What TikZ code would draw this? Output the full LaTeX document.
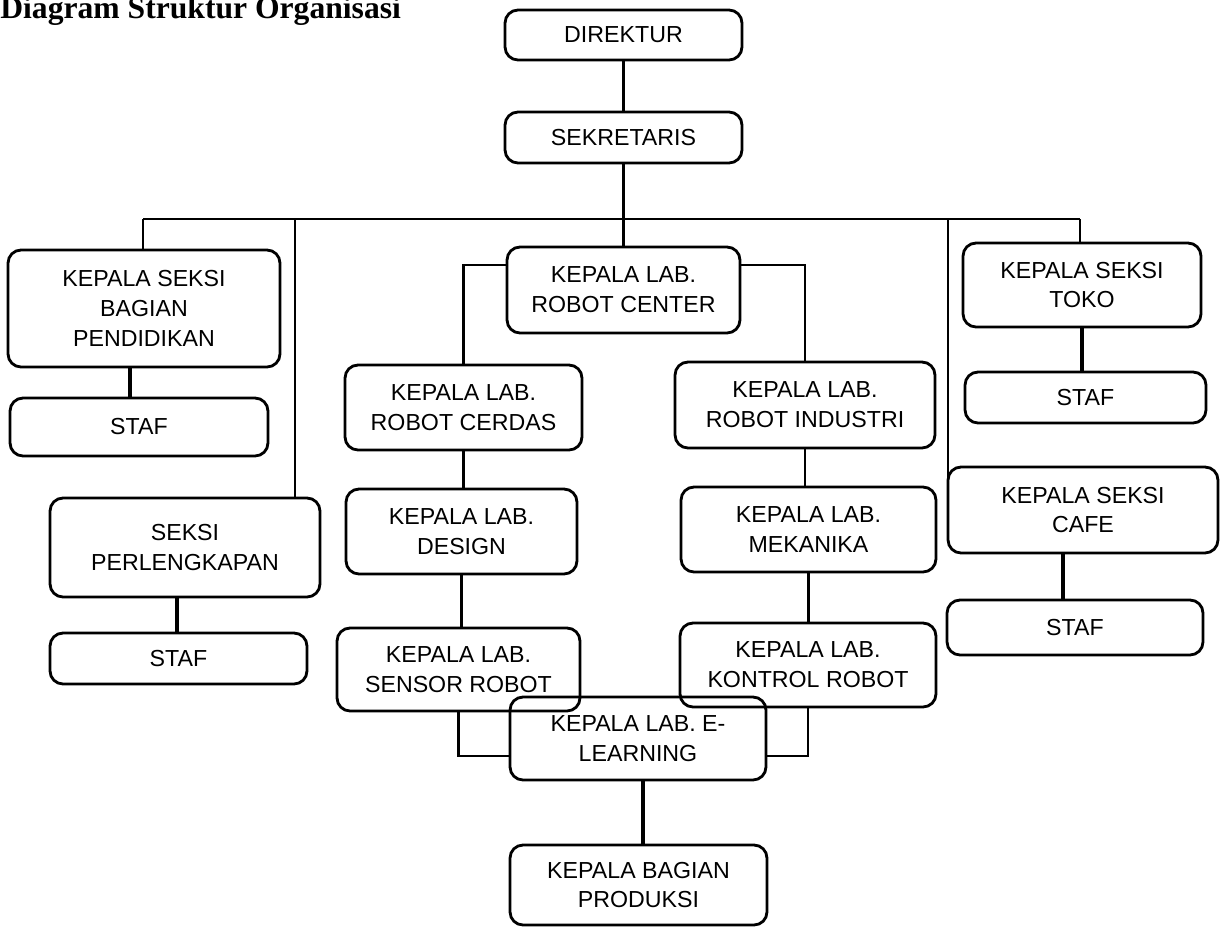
\documentclass[tikz,border=0pt]{standalone}
\usepackage{fontspec}
\setmainfont{Liberation Sans}
\newfontfamily\titlefont{Liberation Serif}
\begin{document}
\begin{tikzpicture}[x=0.02cm,y=-0.02cm,
                  unit/.style={draw,rounded corners=0.26cm,line width=1.6pt,align=center,
                    inner sep=0pt,font=\fontsize{13.2}{17}\selectfont},
                  link/.style={line width=1.4pt},
                  heavy/.style={line width=2.8pt}]
                  \useasboundingbox (0,0) rectangle (1224,927);
                  \node [anchor=base west,inner sep=0pt,font=\titlefont\bfseries\fontsize{18}{20}\selectfont] (title) at (0,18) {Diagram Struktur Organisasi};
                  % pimpinan
                  \node [unit,minimum width=4.74cm,minimum height=1.0cm] (dir) at (623.5,35) {DIREKTUR};
                  \node [unit,minimum width=4.74cm,minimum height=1.02cm] (sek) at (623.5,137.5) {SEKRETARIS};
                  % kiri
                  \node [unit,minimum width=5.44cm,minimum height=2.34cm] (pend) at (144,308.5) {KEPALA SEKSI\\BAGIAN\\PENDIDIKAN};
                  \node [unit,minimum width=5.16cm,minimum height=1.16cm] (staf1) at (139,427) {STAF};
                  \node [unit,minimum width=5.4cm,minimum height=1.98cm] (perl) at (185,547.5) {SEKSI\\PERLENGKAPAN};
                  \node [unit,minimum width=5.14cm,minimum height=1.02cm] (staf2) at (178.5,658.5) {STAF};
                  % lab
                  \node [unit,minimum width=4.66cm,minimum height=1.72cm] (rc) at (623.5,290) {KEPALA LAB.\\ROBOT CENTER};
                  \node [unit,minimum width=4.74cm,minimum height=1.7cm] (cerdas) at (463.5,407.5) {KEPALA LAB.\\ROBOT CERDAS};
                  \node [unit,minimum width=5.2cm,minimum height=1.72cm] (industri) at (805,405) {KEPALA LAB.\\ROBOT INDUSTRI};
                  \node [unit,minimum width=4.62cm,minimum height=1.7cm] (design) at (461.5,531.5) {KEPALA LAB.\\DESIGN};
                  \node [unit,minimum width=5.1cm,minimum height=1.7cm] (mekanika) at (808.5,529.5) {KEPALA LAB.\\MEKANIKA};
                  \node [unit,minimum width=4.86cm,minimum height=1.66cm] (sensor) at (458.5,669.5) {KEPALA LAB.\\SENSOR ROBOT};
                  \node [unit,minimum width=5.12cm,minimum height=1.68cm] (kontrol) at (808,665) {KEPALA LAB.\\KONTROL ROBOT};
                  \node [unit,minimum width=5.12cm,minimum height=1.66cm] (elearn) at (638,738.5) {KEPALA LAB. E-\\LEARNING};
                  \node [unit,minimum width=5.14cm,minimum height=1.6cm] (produksi) at (638.5,885) {KEPALA BAGIAN\\PRODUKSI};
                  % kanan
                  \node [unit,minimum width=4.76cm,minimum height=1.68cm] (toko) at (1082,285) {KEPALA SEKSI\\TOKO};
                  \node [unit,minimum width=4.82cm,minimum height=1.02cm] (staf3) at (1085.5,397.5) {STAF};
                  \node [unit,minimum width=5.4cm,minimum height=1.72cm] (cafe) at (1083,510) {KEPALA SEKSI\\CAFE};
                  \node [unit,minimum width=5.12cm,minimum height=1.1cm] (staf4) at (1075,627.5) {STAF};
                  % garis
                  \coordinate (busL) at (143,219);
                  \coordinate (busP) at (295,219);
                  \coordinate (busC) at (948,219);
                  \coordinate (busR) at (1080,219);
                  \draw [link] (dir) -- (sek);
                  \draw [link] (sek.south) -- (rc.north);
                  \draw [link] (busL) -- (busR);
                  \draw [link] (busL) -- (busL |- pend.north);
                  \draw [link] (busP) -- (busP |- perl.north);
                  \draw [link] (busC) -- (busC |- cafe.west);
                  \draw [link] (busR) -- (busR |- toko.north);
                  \draw [heavy] ([xshift=-0.28cm]pend.south) -- ([xshift=-0.28cm]pend.south |- staf1.north);
                  \draw [heavy] ([xshift=-0.16cm]perl.south) -- ([xshift=-0.16cm]perl.south |- staf2.north);
                  \draw [link] ([yshift=0.5cm]rc.west) -| (cerdas.north);
                  \draw [link] ([yshift=0.5cm]rc.east) -| (industri.north);
                  \draw [link] (cerdas.south) -- (cerdas.south |- design.north);
                  \draw [link] (design.south) -- (design.south |- sensor.north);
                  \draw [link] (industri.south) -- (industri.south |- mekanika.north);
                  \draw [link] (mekanika.south) -- (mekanika.south |- kontrol.north);
                  \draw [link] (sensor.south) |- ([yshift=-0.35cm]elearn.west);
                  \draw [link] (kontrol.south) |- ([yshift=-0.35cm]elearn.east);
                  \draw [heavy] ([xshift=0.1cm]elearn.south) -- ([xshift=0.1cm]elearn.south |- produksi.north);
                  \draw [heavy] (toko.south) -- (toko.south |- staf3.north);
                  \draw [link,line width=1.8pt] ([xshift=-0.4cm]cafe.south) -- ([xshift=-0.4cm]cafe.south |- staf4.north);
              \end{tikzpicture}
\end{document}
